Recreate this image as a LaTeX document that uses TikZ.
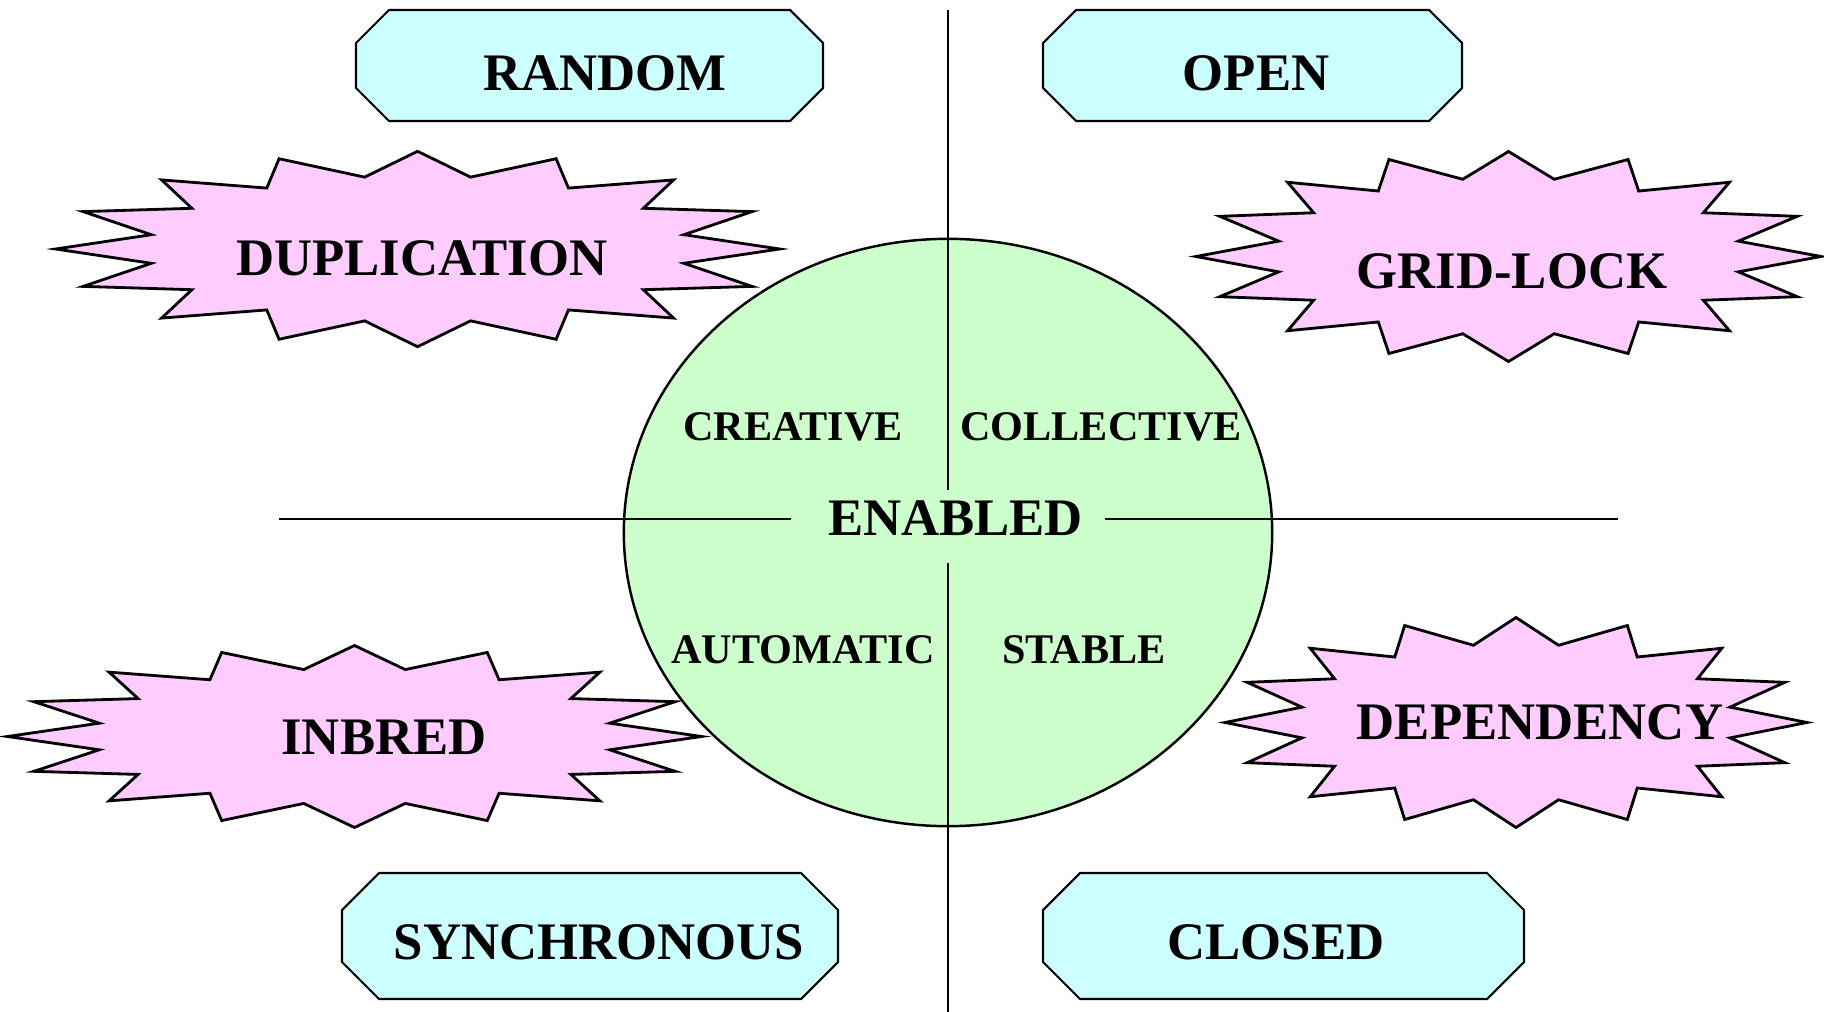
\documentclass[tikz,border=0pt]{standalone}
\usepackage{fontspec}
\setmainfont{Liberation Serif}
\usetikzlibrary{shapes.geometric}

\definecolor{boxcyan}{RGB}{204,255,255}
\definecolor{burstpink}{RGB}{255,204,255}
\definecolor{ovalgreen}{RGB}{204,255,204}

\tikzset{
  big/.style={font=\fontsize{15}{18}\selectfont\bfseries,inner sep=0pt,text height=0.5cm,text depth=0pt},
  small/.style={font=\fontsize{12}{14}\selectfont\bfseries,inner sep=0pt,anchor=base},
  octline/.style={draw,line width=0.6pt,fill=boxcyan,line join=miter},
  burstline/.style={draw,line width=0.8pt,fill=burstpink,line join=miter},
}

% chamfered box: left, top, right, bottom, chamfer
\newcommand\octbox[5]{%
  \path[octline] (#1+#5,#2) -- (#3-#5,#2) -- (#3,#2+#5) -- (#3,#4-#5)
    -- (#3-#5,#4) -- (#1+#5,#4) -- (#1,#4-#5) -- (#1,#2+#5) -- cycle;}
% sixteen-point burst: centre, x radius, y radius (inner points at 3/4)
\newcommand\burst[3]{%
  \path[burstline,shift={(#1)}] plot[samples=32,domain=0:31,variable=\k]
    ({(1-0.25*mod(\k,2))*#2*cos(11.25*\k)},{(1-0.25*mod(\k,2))*#3*sin(11.25*\k)}) -- cycle;}

\begin{document}
\begin{tikzpicture}[x=0.01cm,y=-0.01cm,line width=0.7pt]
\useasboundingbox (0,0) rectangle (1824,1012);

\node[ellipse,draw,fill=ovalgreen,inner sep=0pt,minimum width=6.48cm,minimum height=5.87cm] (oval) at (948,532.5) {};
% the gap in the axes is the node; text sits right of its middle
\node[big,text height=0.35cm,text depth=0.18cm,text width=2.70cm,align=right,inner xsep=0.21cm,minimum height=0.71cm] (en) at (948,526.5) {ENABLED};
\coordinate (top) at (948,10);
\coordinate (bot) at (948,1012);
\coordinate (lft) at (279,519);
\coordinate (rgt) at (1618,519);
\draw (top) -- (top |- en.north) (bot |- en.south) -- (bot);
\draw (lft) -- (lft -| en.west) (rgt -| en.east) -- (rgt);

\node[small] (cre) at (793,440) {CREATIVE};
\node[small] (col) at (1101,440) {COLLECTIVE};
\node[small] (aut) at (803,663) {AUTOMATIC};
\node[small] (sta) at (1084,663) {STABLE};

\octbox{356}{10}{823}{121}{33}
\octbox{1043}{10}{1462}{121}{33}
\octbox{342}{873}{838}{999}{37}
\octbox{1043}{873}{1524}{999}{37}
\node[big] (ran) at (605,65) {RANDOM};
\node[big] (opn) at (1256,65) {OPEN};
\node[big] (syn) at (599,934) {SYNCHRONOUS};
\node[big] (clo) at (1276,934) {CLOSED};

\burst{417.6,249}{362}{97.7}
\burst{1508.5,256.5}{312.5}{105}
\burst{354.5,736.5}{347}{91}
\burst{1516,722.5}{291}{105}
\node[big] (dup) at (422,250) {DUPLICATION};
\node[big] (grd) at (1512,263) {GRID-LOCK};
\node[big] (inb) at (384,729) {INBRED};
\node[big] (dep) at (1540,714) {DEPENDENCY};
\end{tikzpicture}
\end{document}
